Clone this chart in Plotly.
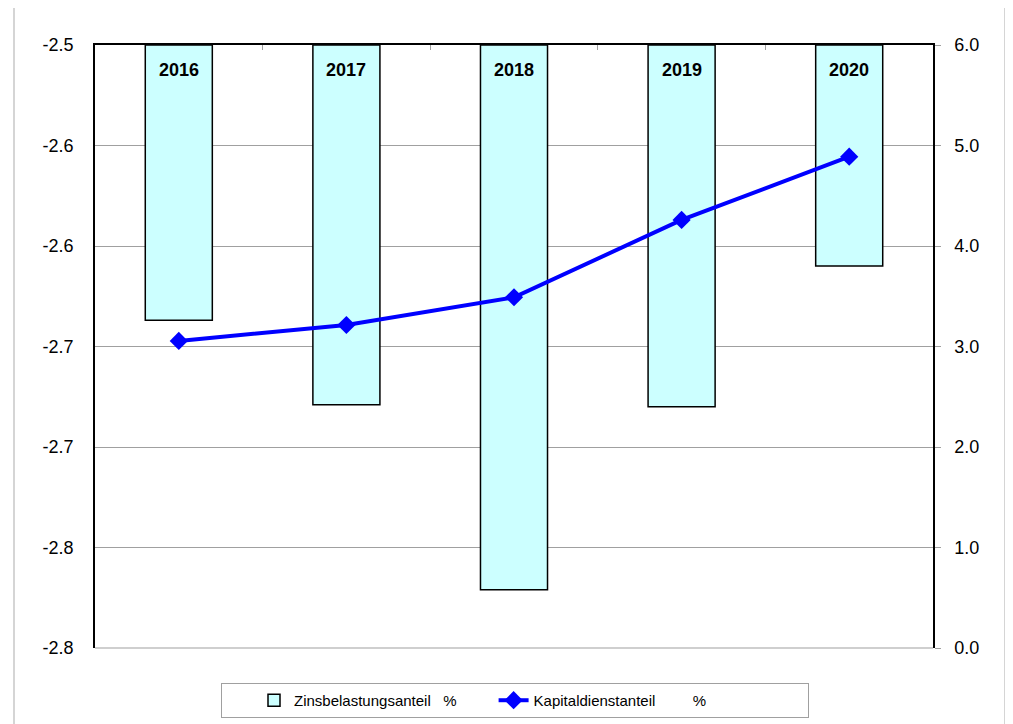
import plotly.graph_objects as go

years = ["2016", "2017", "2018", "2019", "2020"]
zins = [-2.637, -2.679, -2.771, -2.680, -2.610]      # Zinsbelastungsanteil % (left axis)
kapital = [3.055, 3.214, 3.49, 4.259, 4.889]          # Kapitaldienstanteil % (right axis)

left_top = -2.5
left_bottom = -2.8
left_tickvals = [-2.50, -2.55, -2.60, -2.65, -2.70, -2.75, -2.80]
left_ticktext = ["-2.5", "-2.6", "-2.6", "-2.7", "-2.7", "-2.8", "-2.8"]
right_tickvals = [0, 1, 2, 3, 4, 5, 6]

NB = "\u00a0"
FONT = "Liberation Sans, Arial, sans-serif"

fig = go.Figure()

fig.add_trace(go.Bar(
    x=years,
    y=[v - left_top for v in zins],
    base=left_top,
    width=0.4,
    marker=dict(color="#CCFFFF", line=dict(color="#000000", width=1.5)),
    name="Zinsbelastungsanteil" + NB * 3 + "%",
    yaxis="y",
    hoverinfo="skip",
))

fig.add_trace(go.Scatter(
    x=years,
    y=kapital,
    mode="lines+markers",
    line=dict(color="#0000FF", width=4),
    marker=dict(symbol="diamond", size=14, color="#0000FF"),
    name="Kapitaldienstanteil" + NB * 9 + "%" + NB * 23,
    yaxis="y2",
))

# category labels inside the top of each bar (category index positions)
for i, yr in enumerate(years):
    fig.add_annotation(
        x=i, y=1, xref="x", yref="paper",
        text="<b>" + yr + "</b>", showarrow=False,
        yanchor="middle", yshift=-25,
        font=dict(family=FONT, size=18, color="#000000"),
    )

# outer chart border
fig.add_shape(type="rect", xref="paper", yref="paper",
              x0=(14 - 95) / 838, x1=(1005 - 95) / 838,
              y0=-(740 - 648) / 603, y1=(648 - 5) / 603,
              line=dict(color="#C8C8C8", width=1.5), fillcolor="rgba(0,0,0,0)",
              layer="below")
# bottom edge of plot area
fig.add_shape(type="line", xref="paper", yref="paper",
              x0=0, x1=1, y0=0, y1=0,
              line=dict(color="#A0A0A0", width=1.2))

fig.update_layout(
    width=1013, height=724,
    margin=dict(l=87, r=88, t=37, b=84),
    paper_bgcolor="white", plot_bgcolor="white",
    font=dict(family=FONT, size=18, color="#000000"),
    showlegend=True,
    xaxis=dict(
        type="category", side="top", range=[-0.5, 4.5],
        showline=True, linecolor="#000000", linewidth=1.5,
        showticklabels=False, ticks="inside", tickson="boundaries",
        ticklen=5, tickcolor="#A0A0A0", showgrid=False, zeroline=False,
    ),
    yaxis=dict(
        range=[left_bottom, left_top],
        tickvals=left_tickvals, ticktext=left_ticktext,
        showline=True, linecolor="#000000", linewidth=1.5,
        showgrid=True, gridcolor="#A0A0A0", gridwidth=1.2,
        zeroline=False, ticks="", ticklabelstandoff=16,
        tickfont=dict(family=FONT, size=18),
    ),
    yaxis2=dict(
        overlaying="y", side="right", range=[0, 6],
        tickvals=right_tickvals, tickformat=".1f",
        showline=True, linecolor="#000000", linewidth=1.5,
        showgrid=False, zeroline=False,
        ticks="outside", ticklen=6, tickcolor="#A0A0A0",
        ticklabelstandoff=10,
        tickfont=dict(family=FONT, size=18),
    ),
    legend=dict(
        orientation="h", x=(221 - 95) / 838, xanchor="left",
        y=-0.058, yanchor="top",
        bordercolor="#A0A0A0", borderwidth=1, bgcolor="white",
        font=dict(family=FONT, size=15, color="#000000"),
        itemwidth=30,
        indentation=32,
    ),
)

fig.write_html("out.html")
